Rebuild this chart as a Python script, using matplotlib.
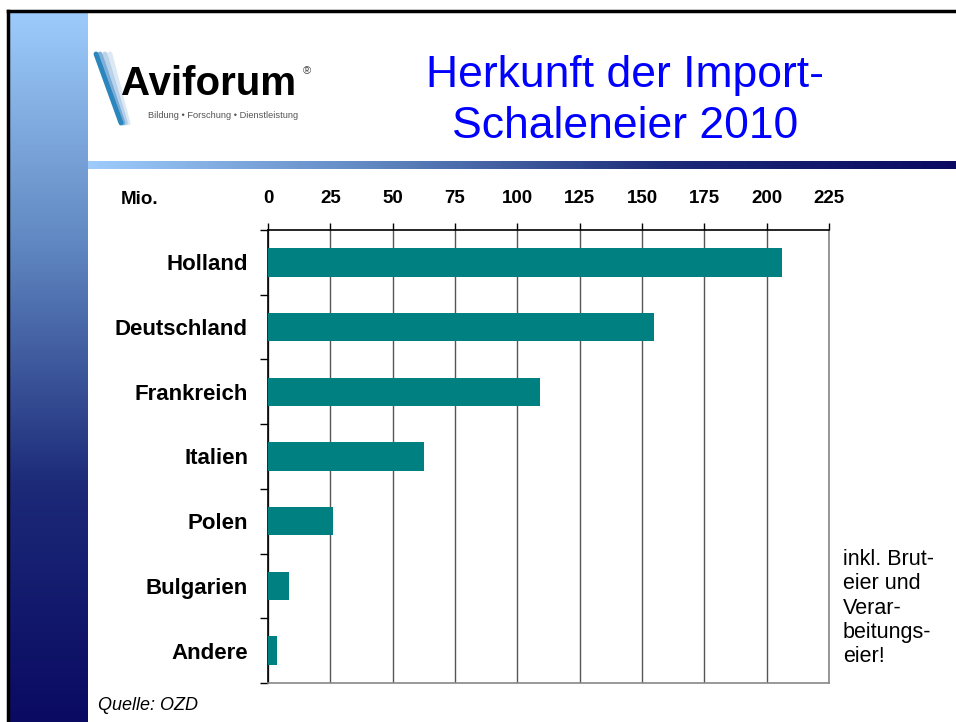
import numpy as np
import matplotlib
matplotlib.use("Agg")
import matplotlib.pyplot as plt
from matplotlib.colors import LinearSegmentedColormap

plt.rcParams['font.family'] = ['Liberation Sans', 'DejaVu Sans']

countries = ["Holland", "Deutschland", "Frankreich", "Italien", "Polen", "Bulgarien", "Andere"]
mio = [206, 155, 109, 62.5, 26, 8.5, 3.5]
xticks = [0, 25, 50, 75, 100, 125, 150, 175, 200, 225]

W, H = 956, 722
fig = plt.figure(figsize=(W / 100, H / 100), dpi=100)

# background / slide decoration in pixel coords
bg = fig.add_axes([0, 0, 1, 1])
bg.set_xlim(0, W)
bg.set_ylim(H, 0)
bg.axis("off")

cmap = LinearSegmentedColormap.from_list("slide", ["#9dccfc", "#5f86c0", "#1c2a78", "#0a0a62"])
# left vertical bar
grad_v = np.linspace(0, 1, 256).reshape(-1, 1)
bg.imshow(grad_v, cmap=cmap, extent=[9, 88, H, 11], aspect="auto")
# horizontal bar under the title
grad_h = np.linspace(0, 1, 256).reshape(1, -1)
bg.imshow(grad_h, cmap=cmap, extent=[88, W, 169, 161], aspect="auto")
# black frame
bg.plot([8, W], [11, 11], color="black", lw=2.5)
bg.plot([8, 8], [11, H], color="black", lw=2.5)

# logo
for dx, c, a in [(14, "#d4e4f2", 0.8), (9, "#a9c9e6", 0.8), (4, "#6fa6d4", 0.9), (0, "#2a86bd", 1.0)]:
    bg.plot([96 + dx, 121 + dx * 0.5], [54, 123], color=c, lw=3.5, alpha=a, solid_capstyle="round")
bg.text(121, 95, "Aviforum", fontsize=29, fontweight="bold", color="black",
        va="baseline", ha="left")
bg.text(307, 71, "\u00ae", fontsize=8, color="#444444", va="center", ha="center")
bg.text(148, 116, "Bildung \u2022 Forschung \u2022 Dienstleistung", fontsize=6.7,
        color="#555555", va="center", ha="left")

# title
bg.text(625, 101, "Herkunft der Import-\nSchaleneier 2010", fontsize=32, color="#0000ff",
        ha="center", va="center", linespacing=1.32)

# chart
x0, x1, y0, y1 = 268, 829, 230, 683
ax = fig.add_axes([x0 / W, 1 - y1 / H, (x1 - x0) / W, (y1 - y0) / H])
ypos = np.arange(len(countries))
ax.barh(ypos, mio, height=0.44, color="#008080", zorder=3)
ax.set_xlim(0, 225)
ax.set_ylim(len(countries) - 0.5, -0.5)
ax.set_xticks(xticks)
ax.xaxis.tick_top()
ax.tick_params(axis="x", length=5, width=1, color="black", pad=11.5, labelsize=13.5)
for lab in ax.get_xticklabels():
    lab.set_fontweight("bold")
ax.grid(axis="x", color="#555555", lw=1, zorder=1)

ax.set_yticks(ypos)
ax.set_yticklabels(countries, fontsize=16, fontweight="bold")
ax.set_yticks(np.arange(len(countries) + 1) - 0.5, minor=True)
ax.tick_params(axis="y", which="major", length=0, pad=14.4)
ax.tick_params(axis="y", which="minor", length=6, width=1, color="black")

ax.spines["top"].set_color("black")
ax.spines["left"].set_color("black")
ax.spines["right"].set_color("#888888")
ax.spines["bottom"].set_color("#888888")
for s in ax.spines.values():
    s.set_linewidth(1.2)

bg.text(140, 200, "Mio.", fontsize=13.5, fontweight="bold", ha="center", va="center")
bg.text(843, 608, "inkl. Brut-\neier und\nVerar-\nbeitungs-\neier!", fontsize=15.5,
        ha="left", va="center", linespacing=1.2)
bg.text(98, 705, "Quelle: OZD", fontsize=13, style="italic", ha="left", va="center")

fig.savefig("out.png", dpi=100)
